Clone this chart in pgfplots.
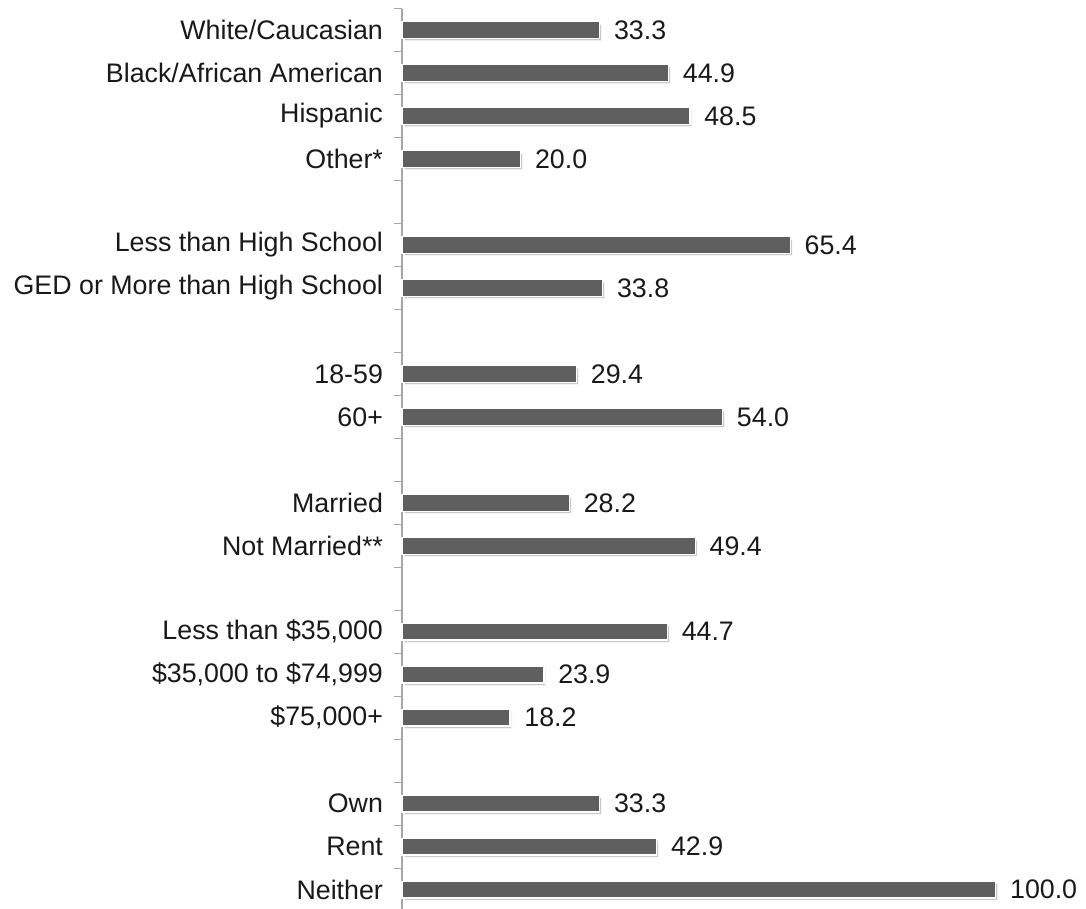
\documentclass[border=0pt]{standalone}
\usepackage{pgfplots}
\pgfplotsset{compat=1.18}
\usepackage{fontspec}
\setmainfont{Liberation Sans}
\usetikzlibrary{shadows}
\definecolor{barfill}{HTML}{5F5F5F}
\definecolor{axisgray}{HTML}{A6A6A6}
\begin{document}
\begin{tikzpicture}
\begin{axis}[
    scale only axis,
    width=297pt, height=451.5pt,
    xmin=0, xmax=100,
    ymin=-0.5, ymax=20.5,
    y dir=reverse,
    axis y line*=left,
    axis x line=none,
    axis line style={axisgray, line width=0.8pt, -},
    xbar, bar width=8.4pt,
    ytick={0,...,20},
    yticklabels={White/Caucasian, Black/African American, Hispanic, Other*, ,
        Less than High School, GED or More than High School, ,
        18-59, 60+, ,
        Married, Not Married**, ,
        {Less than \$35,000}, {\$35,000 to \$74,999}, {\$75,000+}, ,
        Own, Rent, Neither},
    major tick length=0pt,
    minor ytick={-0.5,0.5,...,20.5},
    minor tick length=4pt,
    tick align=outside,
    minor tick style={axisgray, line width=0.6pt},
    yticklabel style={font=\fontsize{13.4}{16}\selectfont, text=black!90, xshift=-6pt},
    nodes near coords,
    /pgf/number format/fixed,
    /pgf/number format/fixed zerofill,
    /pgf/number format/precision=1,
    /pgf/number format/assume math mode=true,
    every node near coord/.append style={font=\fontsize{13.4}{16}\selectfont,
        text=black!90, anchor=west, xshift=3.5pt},
    clip=false,
]
\addplot[fill=barfill, draw=white, line width=0.7pt,
    drop shadow={shadow xshift=1pt, shadow yshift=-1.2pt, fill=black!30, opacity=0.7}]
coordinates {
    (33.3,0) (44.9,1) (48.5,2) (20.0,3)
    (65.4,5) (33.8,6)
    (29.4,8) (54.0,9)
    (28.2,11) (49.4,12)
    (44.7,14) (23.9,15) (18.2,16)
    (33.3,18) (42.9,19) (100.0,20)
};
\coordinate (tl) at (axis cs:-67.7,-0.698);
\coordinate (br) at (axis cs:115.2,20.44);
\end{axis}
\pgfresetboundingbox
\path[use as bounding box] (tl) rectangle (br);
\end{tikzpicture}
\end{document}
